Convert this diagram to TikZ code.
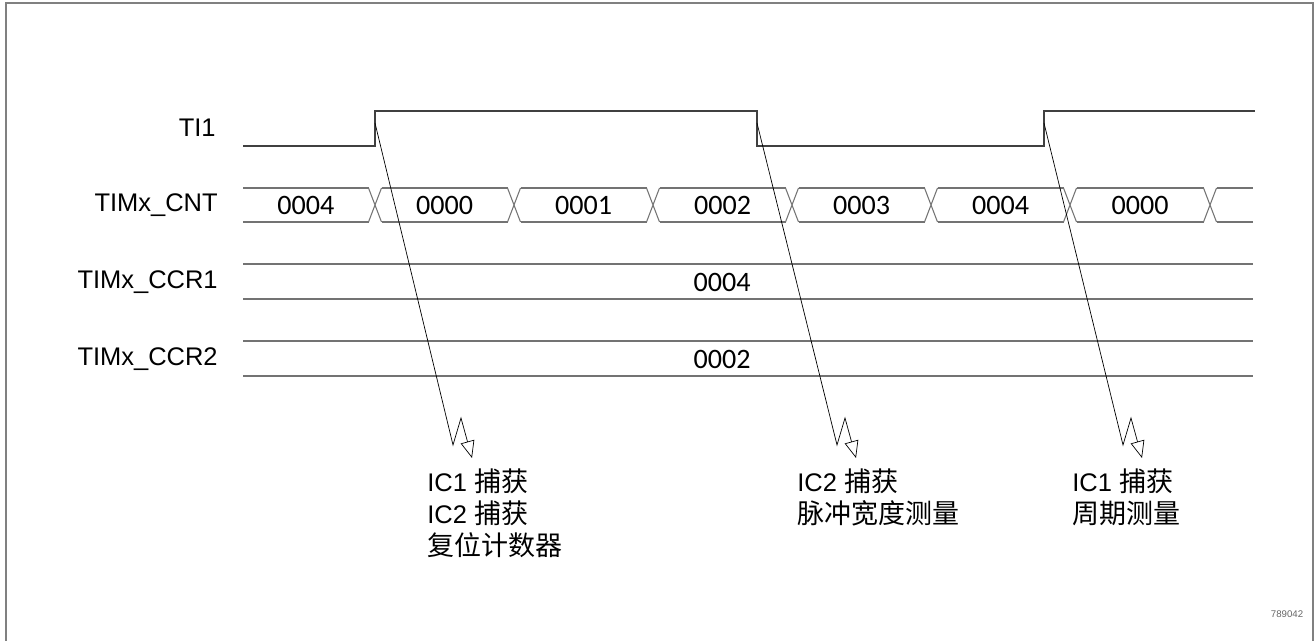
\documentclass[tikz,border=0pt]{standalone}
\usepackage{fontspec}
\setmainfont{Liberation Sans}
\newfontfamily\cjkfont[Scale=1.06]{Noto Sans CJK SC}
\newfontfamily\busfont{Carlito}
\usetikzlibrary{positioning,arrows.meta}
\tikzset{
  wave/.style={line width=0.6pt, draw=black!75},
  bus/.style={line width=0.6pt, draw=black!55},
  capture/.style={-{Triangle[open, length=0.34cm, width=0.28cm]}, line width=0.4pt, draw=black},
  every node/.style={inner sep=0pt}
}

\begin{document}
\begin{tikzpicture}[
    x=0.02cm, y=-0.02cm,
    sig/.style={anchor=east, font=\fontsize{14.5}{17}\selectfont},
    val/.style={font=\busfont\fontsize{16}{19}\selectfont},
    note/.style={anchor=north west, align=left, font=\fontsize{14.5}{18.4}\selectfont}
  ]
  \useasboundingbox (0,0) rectangle (1315,641);

  % frame
  \draw[draw=black!50, line width=1.1pt] (6,660) -- (6,3) -- (1313,3) -- (1313,660);

  % signal names
  \node[sig] (ti)   at (216,128) {TI1};
  \node[sig] (cnt)  at (218,205) {TIMx\_CNT};
  \node[sig] (ccra) at (218,282) {TIMx\_CCR1};
  \node[sig] (ccrb) at (218,359) {TIMx\_CCR2};

  % TI1 waveform
  \draw[wave] (243,146) -- (375,146) -- (375,111) -- (757,111) -- (757,146)
    -- (1044,146) -- (1044,111) -- (1255,111);

  % counter bus
  \foreach \c in {375,514,653,792,931,1070,1210}{
    \draw[bus] (\c-6.5,188) -- (\c+6.5,222) (\c-6.5,222) -- (\c+6.5,188);
  }
  \foreach \a/\b/\v [count=\i] in {236.5/375/0004, 375/514/0000, 514/653/0001,
      653/792/0002, 792/931/0003, 931/1070/0004, 1070/1210/0000}{
    \draw[bus] (\a+6.5,188) -- (\b-6.5,188) (\a+6.5,222) -- (\b-6.5,222);
    \node[val] (cnt\i) at ({(\a+\b)/2},205) {\v};
  }
  \draw[bus] (1216.5,188) -- (1253,188) (1216.5,222) -- (1253,222);

  % capture registers
  \draw[bus] (243,264) -- (1253,264) (243,299) -- (1253,299);
  \node[val] (ccraval) at (722,282) {0004};
  \draw[bus] (243,341) -- (1253,341) (243,376) -- (1253,376);
  \node[val] (ccrbval) at (722,359) {0002};

  % capture events
  \coordinate (edgeA) at (375,123);
  \coordinate (edgeB) at (757,123);
  \coordinate (edgeC) at (1044,123);
  \coordinate (kinkA) at (453,445);
  \coordinate (kinkB) at (837,445);
  \coordinate (kinkC) at (1123,445);
  \draw[capture] (edgeA) -- (kinkA) -- ++(8,-27) -- ++(11,40);
  \draw[capture] (edgeB) -- (kinkB) -- ++(8,-27) -- ++(11,40);
  \draw[capture] (edgeC) -- (kinkC) -- ++(8,-27) -- ++(11,40);

  % notes
  \node[note] (noteA) at (427,468) {IC1 {\cjkfont 捕获}\\IC2 {\cjkfont 捕获}\\{\cjkfont 复位计数器}};
  \node[note] (noteB) at (797,468) {IC2 {\cjkfont 捕获}\\{\cjkfont 脉冲宽度测量}};
  \node[note] (noteC) at (1072,468) {IC1 {\cjkfont 捕获}\\{\cjkfont 周期测量}};

  \node[font=\fontsize{5.5}{6}\selectfont, text=black!60] (code) at (1287,614) {789042};
\end{tikzpicture}
\end{document}
